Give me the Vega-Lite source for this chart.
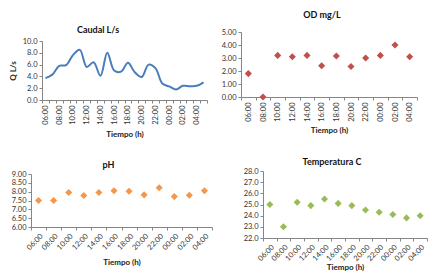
{
  "$schema": "https://vega.github.io/schema/vega-lite/v6.json",
  "padding": {"left": 9, "top": 11, "right": 0, "bottom": 0},
  "background": "white",
  "config": {
    "view": {"stroke": null},
    "font": "Lato",
    "axis": {"grid": false, "labelFont": "Lato", "labelFontSize": 7.5, "labelColor": "#333333", "domainColor": "#868686", "tickColor": "#868686", "tickSize": 3, "titleFont": "Lato", "titleFontSize": 8, "titleFontWeight": "bold", "titleColor": "#222222", "labelPadding": 2},
    "title": {"font": "Lato", "fontSize": 9, "fontWeight": "bold", "color": "#111111", "anchor": "middle", "frame": "group"}
  },
  "datasets": {
    "hourly": [
      {"t": "06:00", "q": 3.7}, {"t": "07:00", "q": 4.3}, {"t": "08:00", "q": 5.8}, {"t": "09:00", "q": 5.9},
      {"t": "10:00", "q": 7.6}, {"t": "11:00", "q": 8.5}, {"t": "12:00", "q": 5.6}, {"t": "13:00", "q": 6.4},
      {"t": "14:00", "q": 4.1}, {"t": "15:00", "q": 8.0}, {"t": "16:00", "q": 5.0}, {"t": "17:00", "q": 4.8},
      {"t": "18:00", "q": 6.3}, {"t": "19:00", "q": 4.7}, {"t": "20:00", "q": 3.9}, {"t": "21:00", "q": 6.0},
      {"t": "22:00", "q": 5.4}, {"t": "23:00", "q": 2.8}, {"t": "00:00", "q": 2.3}, {"t": "01:00", "q": 1.8},
      {"t": "02:00", "q": 2.4}, {"t": "03:00", "q": 2.35}, {"t": "04:00", "q": 2.4}, {"t": "05:00", "q": 3.0}
    ],
    "samples": [
      {"t": "06:00", "od": 1.8, "ph": 7.5, "temp": 25.0},
      {"t": "08:00", "od": 0.0, "ph": 7.5, "temp": 23.0},
      {"t": "10:00", "od": 3.2, "ph": 7.95, "temp": 25.2},
      {"t": "12:00", "od": 3.1, "ph": 7.78, "temp": 24.9},
      {"t": "14:00", "od": 3.2, "ph": 7.95, "temp": 25.5},
      {"t": "16:00", "od": 2.4, "ph": 8.05, "temp": 25.1},
      {"t": "18:00", "od": 3.15, "ph": 8.02, "temp": 24.9},
      {"t": "20:00", "od": 2.35, "ph": 7.82, "temp": 24.5},
      {"t": "22:00", "od": 3.0, "ph": 8.22, "temp": 24.3},
      {"t": "00:00", "od": 3.2, "ph": 7.72, "temp": 24.1},
      {"t": "02:00", "od": 4.0, "ph": 7.8, "temp": 23.8},
      {"t": "04:00", "od": 3.1, "ph": 8.05, "temp": 24.0}
    ]
  },
  "vconcat": [
    {
      "bounds": "flush",
      "spacing": 34,
      "hconcat": [
        {
          "width": 176,
          "height": 68,
          "data": {"name": "hourly"},
          "title": {"text": "Caudal L/s", "dx": -21, "offset": 3, "dy": 6},
          "mark": {"type": "line", "interpolate": "catmull-rom", "color": "#4A7EBB", "strokeWidth": 2},
          "encoding": {
            "x": {"field": "t", "type": "ordinal", "sort": null,
              "scale": {"type": "band", "range": [11, 176], "paddingInner": 0, "paddingOuter": 0},
              "axis": {"title": "Tiempo (h)", "labelAngle": -90, "tickBand": "extent", "titlePadding": 6,
                "labelExpr": "parseInt(substring(datum.label, 0, 2)) % 2 == 0 ? datum.label : ''"}},
            "y": {"field": "q", "type": "quantitative",
              "scale": {"domain": [0, 10], "range": [68, 9], "nice": false},
              "axis": {"values": [0, 2, 4, 6, 8, 10], "format": ".1f", "title": "Q L/s", "offset": -11, "titlePadding": 5}}
          }
        },
        {
          "width": 176,
          "height": 65,
          "data": {"name": "samples"},
          "title": {"text": "OD mg/L", "dx": -7, "offset": 8},
          "mark": {"type": "point", "shape": "diamond", "filled": true, "size": 50, "color": "#C0504D", "opacity": 1},
          "encoding": {
            "x": {"field": "t", "type": "ordinal", "sort": null,
              "scale": {"type": "band", "paddingInner": 0, "paddingOuter": 0},
              "axis": {"title": "Tiempo (h)", "labelAngle": -90, "tickBand": "extent", "titlePadding": 5}},
            "y": {"field": "od", "type": "quantitative",
              "scale": {"domain": [0, 5], "nice": false},
              "axis": {"values": [0, 1, 2, 3, 4, 5], "format": ".2f", "title": null}}
          }
        }
      ]
    },
    {
      "bounds": "flush",
      "spacing": 51,
      "hconcat": [
        {
          "width": 181,
          "height": 56,
          "data": {"name": "samples"},
          "title": {"text": "pH", "dx": -13, "offset": 0},
          "mark": {"type": "point", "shape": "diamond", "filled": true, "size": 50, "color": "#F79646", "opacity": 1},
          "encoding": {
            "x": {"field": "t", "type": "ordinal", "sort": null,
              "scale": {"type": "band", "paddingInner": 0, "paddingOuter": 0},
              "axis": {"title": "Tiempo (h)", "labelAngle": -45, "tickBand": "extent", "titlePadding": 8}},
            "y": {"field": "ph", "type": "quantitative",
              "scale": {"domain": [6, 9], "range": [56, 3], "nice": false, "zero": false},
              "axis": {"values": [6, 6.5, 7, 7.5, 8, 8.5, 9], "format": ".2f", "title": null}}
          }
        },
        {
          "width": 164,
          "height": 67,
          "data": {"name": "samples"},
          "title": {"text": "Temperatura C", "dx": -13, "offset": 0},
          "mark": {"type": "point", "shape": "diamond", "filled": true, "size": 50, "color": "#9BBB59", "opacity": 1},
          "encoding": {
            "x": {"field": "t", "type": "ordinal", "sort": null,
              "scale": {"type": "band", "paddingInner": 0, "paddingOuter": 0},
              "axis": {"title": "Tiempo (h)", "labelAngle": -45, "tickBand": "extent", "titlePadding": 2}},
            "y": {"field": "temp", "type": "quantitative",
              "scale": {"domain": [22, 28], "nice": false, "zero": false},
              "axis": {"values": [22, 23, 24, 25, 26, 27, 28], "format": ".1f", "title": null}}
          }
        }
      ]
    }
  ],
  "spacing": 19
}
